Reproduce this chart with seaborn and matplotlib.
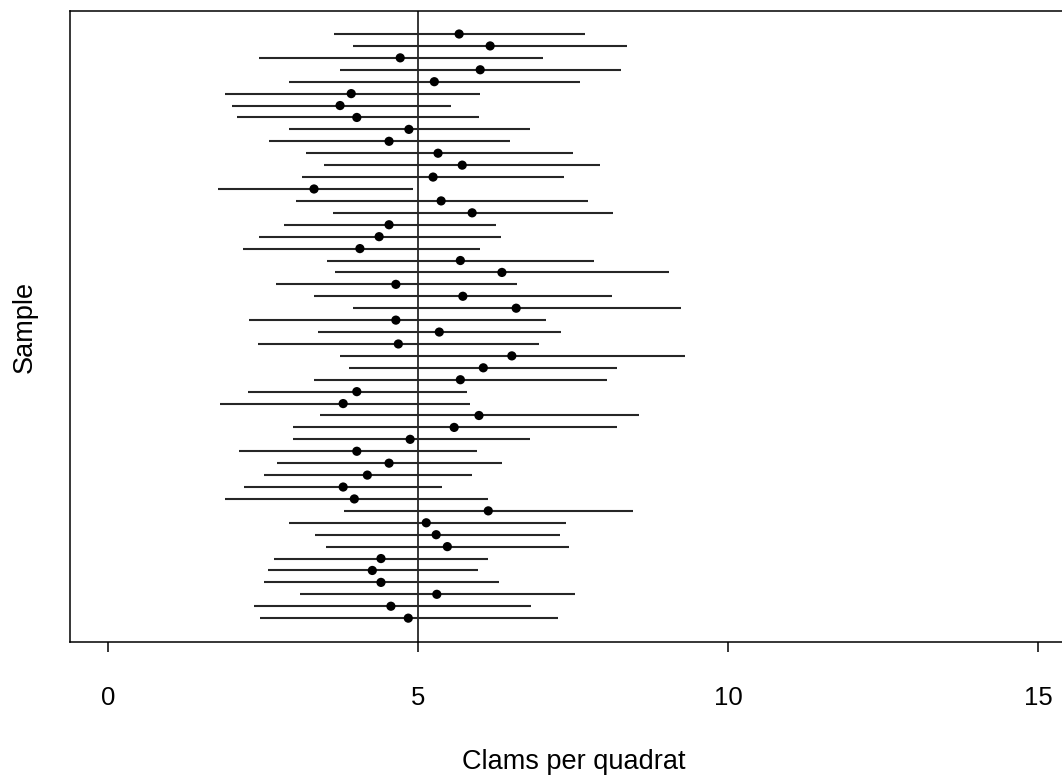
import numpy as np
import pandas as pd
import matplotlib
matplotlib.use("Agg")
import matplotlib.pyplot as plt
import seaborn as sns

# Sample means and 95% interval bounds for 50 repeated samples (top to bottom)
sample_mean = [5.66, 6.16, 4.71, 6.00, 5.26, 3.92, 3.74, 4.01, 4.85, 4.53,
               5.32, 5.71, 5.24, 3.32, 5.37, 5.87, 4.53, 4.37, 4.06, 5.68,
               6.35, 4.64, 5.72, 6.58, 4.64, 5.34, 4.68, 6.51, 6.05, 5.68,
               4.01, 3.79, 5.98, 5.58, 4.87, 4.01, 4.53, 4.18, 3.79, 3.97,
               6.13, 5.13, 5.29, 5.47, 4.40, 4.26, 4.40, 5.30, 4.56, 4.84]
lower = [3.64, 3.95, 2.43, 3.74, 2.92, 1.88, 2.00, 2.08, 2.92, 2.59,
         3.19, 3.48, 3.13, 1.77, 3.03, 3.63, 2.84, 2.43, 2.18, 3.53,
         3.66, 2.71, 3.32, 3.95, 2.27, 3.38, 2.42, 3.74, 3.88, 3.32,
         2.26, 1.80, 3.42, 2.98, 2.98, 2.11, 2.72, 2.51, 2.19, 1.88,
         3.80, 2.92, 3.34, 3.51, 2.68, 2.58, 2.51, 3.09, 2.35, 2.45]
upper = [7.69, 8.37, 7.01, 8.27, 7.61, 6.00, 5.53, 5.98, 6.80, 6.48,
         7.50, 7.93, 7.35, 4.92, 7.74, 8.14, 6.26, 6.34, 6.00, 7.84,
         9.05, 6.59, 8.13, 9.24, 7.06, 7.30, 6.95, 9.30, 8.21, 8.05,
         5.79, 5.84, 8.56, 8.21, 6.80, 5.95, 6.35, 5.87, 5.38, 6.13,
         8.47, 7.39, 7.29, 7.43, 6.13, 5.97, 6.30, 7.53, 6.82, 7.26]
true_mean = 5
x_ticks = [0, 5, 10, 15]

df = pd.DataFrame({
    "sample": np.arange(len(sample_mean)),
    "mean": sample_mean,
    "lower": lower,
    "upper": upper,
})

sns.set_theme(style="white")
plt.rcParams["font.family"] = ["Liberation Sans", "DejaVu Sans"]

fig = plt.figure(figsize=(10.62, 7.82), dpi=100)
# The panel runs slightly past the right edge of the canvas
ax = fig.add_axes([70 / 1062, 140 / 782, (1078 - 70) / 1062, 631 / 782])

# Interval segments, then the sample means on top
ax.hlines(df["sample"], df["lower"], df["upper"], color="#262626", lw=1.5, zorder=2)
sns.scatterplot(data=df, x="mean", y="sample", ax=ax, color="black",
                s=44, edgecolor="none", zorder=3, legend=False)
ax.axvline(true_mean, color="black", lw=1.1, zorder=1)

ax.set_xlim(-0.615, 15.64)
ax.set_ylim(51.0, -1.93)
ax.set_xticks(x_ticks)
ax.set_xticklabels([str(t) for t in x_ticks])
ax.set_yticks([])

for side in ("left", "top", "bottom"):
    ax.spines[side].set_visible(True)
    ax.spines[side].set_color("black")
    ax.spines[side].set_linewidth(1.1)
ax.spines["right"].set_visible(False)

ax.tick_params(axis="x", direction="out", length=7.5, width=1.1, color="black",
               pad=24, labelsize=18.5, labelcolor="black", bottom=True)

ax.set_xlabel("Clams per quadrat", fontsize=19.5, color="black", labelpad=28)
ax.set_ylabel("Sample", fontsize=19.5, color="black", labelpad=23)

fig.savefig("out.png", dpi=100, facecolor="white")
